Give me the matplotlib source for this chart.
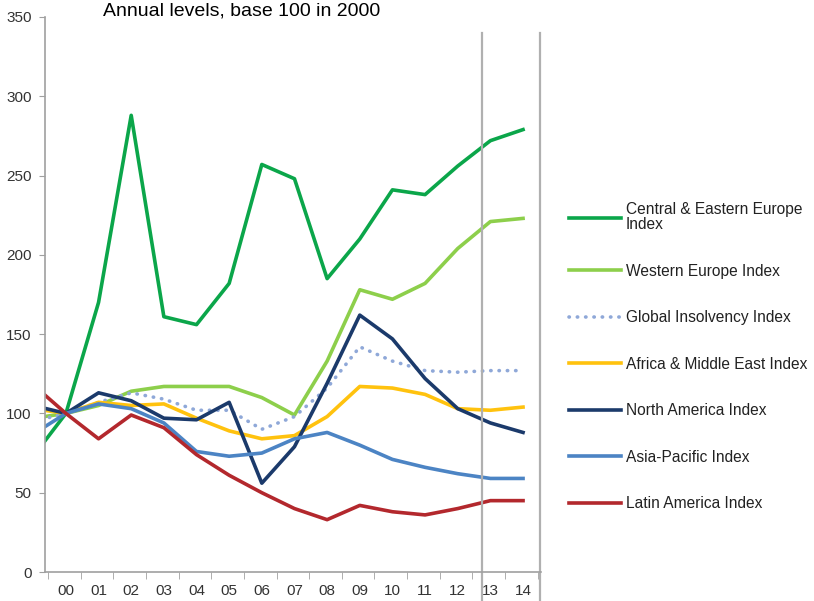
import matplotlib
matplotlib.use("Agg")
import matplotlib.pyplot as plt
import numpy as np

plt.rcParams['font.family'] = ['Liberation Sans', 'DejaVu Sans']

# years (the 1999 point is only partly visible at the left edge)
years = ['99', '00', '01', '02', '03', '04', '05', '06', '07',
         '08', '09', '10', '11', '12', '13', '14']

cee = [73, 100, 170, 288, 161, 156, 182, 257, 248, 185, 210, 241, 238, 256, 272, 279]
western = [97, 100, 105, 114, 117, 117, 117, 110, 99, 133, 178, 172, 182, 204, 221, 223]
glob = [95, 100, 107, 113, 109, 102, 102, 90, 98, 116, 142, 133, 127, 126, 127, 127]
africa = [103, 100, 107, 105, 106, 97, 89, 84, 86, 98, 117, 116, 112, 103, 102, 104]
namerica = [105, 100, 113, 108, 97, 96, 107, 56, 79, 119, 162, 147, 122, 103, 94, 88]
asia = [87, 100, 106, 103, 94, 76, 73, 75, 84, 88, 80, 71, 66, 62, 59, 59]
latam = [118, 100, 84, 99, 91, 74, 61, 50, 40, 33, 42, 38, 36, 40, 45, 45]

x = np.arange(len(years)) - 1

fig = plt.figure(figsize=(8.14, 6.01), dpi=100)
ax = fig.add_axes([45 / 814, 29 / 601, 496 / 814, 555 / 601])

lw = 2.6
ax.plot(x, cee, color='#0BA64A', lw=lw, label='Central & Eastern Europe\nIndex')
ax.plot(x, western, color='#8DCF4B', lw=lw, label='Western Europe Index')
ax.plot(x, glob, color='#8FA8D8', lw=lw, linestyle=(0, (0.1, 2.2)),
        dash_capstyle='round', label='Global Insolvency Index')
ax.plot(x, africa, color='#FFC20E', lw=lw, label='Africa & Middle East Index')
ax.plot(x, namerica, color='#1B3A6B', lw=lw, label='North America Index')
ax.plot(x, asia, color='#4C84C4', lw=lw, label='Asia-Pacific Index')
ax.plot(x, latam, color='#B3282D', lw=lw, label='Latin America Index')

# forecast separator and right border
for xv in [12.75, 14.52]:
    ax.plot([xv, xv], [-18, 340], color='#B0B0B0', lw=1.6, clip_on=False)

ax.set_xlim(-0.64, 14.55)
ax.set_ylim(0, 350)

ax.set_yticks(np.arange(0, 351, 50))
ax.set_xticks(x[1:])
ax.set_xticklabels(years[1:])
ax.set_xticks(np.arange(0, 16) - 0.55, minor=True)
ax.tick_params(axis='x', which='major', length=0, pad=8.5, labelsize=11, labelcolor='#333333')
ax.tick_params(axis='x', which='minor', length=5, color='#A0A0A0', direction='out')
ax.tick_params(axis='y', length=4, color='#A0A0A0', labelsize=11, labelcolor='#333333', pad=5.5)

for s in ['top', 'right']:
    ax.spines[s].set_visible(False)
for s in ['left', 'bottom']:
    ax.spines[s].set_color('#A0A0A0')
    ax.spines[s].set_linewidth(1.2)

fig.text(103 / 814, 1 - 2 / 601, 'Annual levels, base 100 in 2000',
         fontsize=14, va='top', ha='left', color='black')

leg = ax.legend(loc='upper left', bbox_to_anchor=(569 / 814, 1 - 202 / 601),
                bbox_transform=fig.transFigure, frameon=False, fontsize=11.2,
                handlelength=3.35, handletextpad=0.3, labelspacing=2.03,
                borderpad=0, borderaxespad=0)
for t in leg.get_texts():
    t.set_color('#222222')
    t.set_linespacing(1.0)

fig.savefig('out.png', dpi=100)
